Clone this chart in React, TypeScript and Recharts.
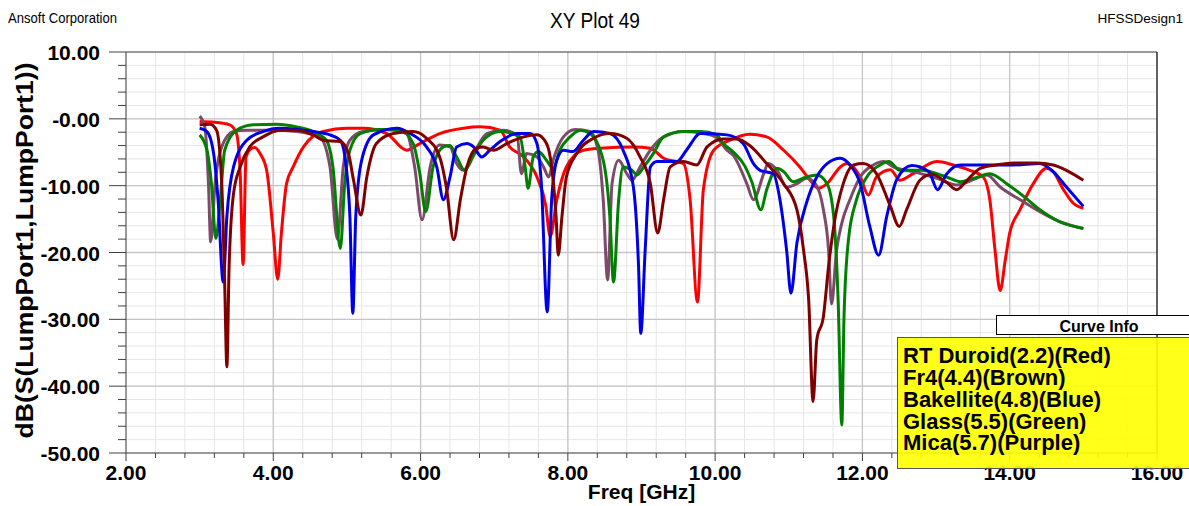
import React from "react";
import { LineChart, Line, XAxis, YAxis, CartesianGrid, ReferenceLine, Label } from "recharts";

if (typeof document !== "undefined") {
  document.body.style.margin = "0";
}

const FONT = "'Liberation Sans', Arial, Helvetica, sans-serif";

// ---------- data ----------
const seriesNames = [
  "RT Duroid(2.2)(Red)",
  "Fr4(4.4)(Brown)",
  "Bakellite(4.8)(Blue)",
  "Glass(5.5)(Green)",
  "Mica(5.7)(Purple)",
];

const xMajorTicks = [2, 4, 6, 8, 10, 12, 14, 16];
const yMajorTicks = [10, 0, -10, -20, -30, -40, -50];
const xTicks = Array.from({ length: 36 }, (_, i) => Math.round((2 + i * 0.4) * 10) / 10);
const yTicks = Array.from({ length: 31 }, (_, i) => -50 + 2 * i);

type Pt = [number, number];

const redPts: Pt[] = [
  [3.0, -0.4], [3.2, -0.5], [3.41, -0.9], [3.5, -2.2], [3.55, -8], [3.59, -21.8], [3.63, -5.7],
  [3.71, -4.4], [3.75, -4.3], [3.82, -5.2], [3.91, -7.7], [4.0, -17.1], [4.06, -24.0], [4.11, -17.1],
  [4.18, -9.7], [4.27, -7.2], [4.41, -4.2], [4.54, -2.6], [4.68, -1.9], [5.0, -1.4], [5.22, -1.4],
  [5.54, -2.2], [5.81, -4.7], [5.99, -3.7], [6.26, -2.2], [6.58, -1.4], [6.81, -1.2], [7.08, -1.7],
  [7.21, -4.2], [7.4, -5.7], [7.58, -8.7], [7.7, -13], [7.76, -17.6], [7.85, -12.1], [7.98, -7.2],
  [8.21, -4.7], [8.44, -4.4], [8.89, -4.2], [9.12, -4.4], [9.3, -5.9], [9.57, -6.7], [9.66, -12.1],
  [9.76, -27.4], [9.84, -10.6], [9.98, -4.7], [10.2, -3.2], [10.47, -2.3], [10.7, -2.7], [10.93, -4.7],
  [11.15, -7.2], [11.29, -9.2], [11.4, -10.4], [11.52, -9.7], [11.7, -7.2], [11.79, -6.7], [11.97, -8.7],
  [12.08, -11.4], [12.19, -8.7], [12.38, -7.6], [12.51, -9.2], [12.69, -8.2], [13.01, -6.4],
  [13.23, -6.9], [13.46, -7.7], [13.64, -8.7], [13.73, -12.1], [13.8, -19.6], [13.87, -25.7],
  [13.94, -21.1], [14.0, -17.1], [14.14, -13.6], [14.32, -9.7], [14.5, -7.4], [14.59, -7.9],
  [14.73, -10.6], [14.86, -12.6], [15.0, -13.4],
];

const brownPts: Pt[] = [
  [3.0, -0.9], [3.14, -0.8], [3.23, -1.7], [3.3, -9.7], [3.34, -24.6], [3.37, -37.1], [3.4, -22.1],
  [3.46, -11.2], [3.55, -7.2], [3.68, -4.2], [3.86, -2.7], [4.09, -1.7], [4.32, -1.7], [4.54, -2.4],
  [4.68, -3.2], [4.91, -3.4], [5.02, -5.2], [5.09, -9.2], [5.19, -14.4], [5.27, -8.7], [5.4, -3.7],
  [5.63, -2.2], [5.9, -1.9], [6.08, -2.9], [6.26, -5.7], [6.35, -10.2], [6.45, -18.1], [6.54, -12.1],
  [6.63, -7.2], [6.76, -4.4], [6.85, -4.2], [6.99, -4.7], [7.17, -3.7], [7.4, -2.7], [7.58, -2.4],
  [7.71, -3.7], [7.78, -7.2], [7.84, -14.6], [7.87, -20.4], [7.92, -14.6], [7.98, -8.7], [8.12, -5.2],
  [8.35, -2.9], [8.57, -2.2], [8.8, -2.9], [8.98, -5.7], [9.12, -9.7], [9.22, -17.1], [9.3, -12.1],
  [9.39, -7.2], [9.57, -6.4], [9.75, -6.9], [9.89, -4.2], [10.11, -3.0], [10.3, -3.0], [10.47, -4.0],
  [10.7, -6.7], [10.93, -9.7], [11.11, -13.6], [11.2, -19.6], [11.27, -27.1], [11.33, -42.3],
  [11.38, -33.1], [11.47, -29.6], [11.54, -22.1], [11.61, -16.1], [11.74, -9.7], [11.88, -6.9],
  [12.01, -6.7], [12.19, -8.2], [12.38, -13.1], [12.5, -16.1], [12.6, -13.6], [12.78, -9.2],
  [12.94, -8.3], [13.14, -9.5], [13.28, -10.6], [13.42, -9.2], [13.6, -7.4], [13.82, -6.9],
  [14.05, -6.6], [14.37, -6.6], [14.59, -6.9], [14.77, -7.7], [15.0, -9.2],
];

const bluePts: Pt[] = [
  [3.0, -1.4], [3.1, -1.9], [3.19, -5.2], [3.25, -12.1], [3.32, -24.4], [3.37, -14.6], [3.46, -7.2],
  [3.64, -3.2], [3.86, -1.9], [4.09, -1.4], [4.54, -1.9], [4.77, -2.4], [4.91, -3.2], [4.99, -7.2],
  [5.04, -14.6], [5.08, -29.1], [5.12, -14.6], [5.2, -6.2], [5.36, -2.4], [5.68, -1.4], [5.86, -2.2],
  [6.08, -4.2], [6.22, -7.2], [6.31, -12.1], [6.4, -8.7], [6.49, -4.2], [6.63, -3.7], [6.72, -4.2],
  [6.83, -5.7], [6.94, -4.7], [7.08, -3.4], [7.31, -2.2], [7.49, -2.2], [7.58, -3.7], [7.64, -9.7],
  [7.72, -28.9], [7.78, -12.1], [7.85, -6.2], [7.94, -4.7], [8.07, -4.9], [8.21, -3.2], [8.35, -1.9],
  [8.57, -2.2], [8.75, -4.7], [8.89, -10.2], [8.96, -22.1], [8.99, -32.1], [9.05, -19.6], [9.12, -7.2],
  [9.21, -6.4], [9.48, -6.4], [9.61, -4.7], [9.8, -2.2], [10.16, -2.4], [10.38, -3.7], [10.52, -6.7],
  [10.61, -7.7], [10.79, -8.2], [10.88, -12.1], [10.97, -19.6], [11.03, -26.1], [11.11, -18.6],
  [11.24, -12.6], [11.38, -8.7], [11.52, -6.7], [11.7, -5.9], [11.83, -6.9], [11.97, -9.7],
  [12.1, -16.1], [12.22, -20.4], [12.33, -14.6], [12.47, -9.0], [12.67, -7.0], [12.9, -7.9],
  [13.02, -10.6], [13.14, -8.3], [13.33, -6.9], [14.05, -6.9], [14.41, -6.7], [14.59, -7.9],
  [14.77, -10.2], [15.0, -13.1],
];

const greenPts: Pt[] = [
  [3.0, -2.4], [3.1, -4.7], [3.16, -9.7], [3.22, -17.9], [3.28, -12.1], [3.34, -4.7], [3.5, -1.7],
  [3.73, -0.9], [4.05, -0.8], [4.32, -1.2], [4.54, -1.9], [4.72, -3.2], [4.81, -7.2], [4.91, -19.4],
  [4.97, -9.7], [5.04, -4.7], [5.18, -2.2], [5.45, -1.6], [5.72, -1.7], [5.9, -3.7], [5.99, -8.2],
  [6.07, -13.9], [6.17, -7.2], [6.31, -4.2], [6.4, -4.0], [6.49, -5.7], [6.6, -7.7], [6.72, -5.5],
  [6.85, -3.2], [7.08, -1.9], [7.35, -2.7], [7.42, -7.2], [7.46, -10.4], [7.53, -5.7], [7.6, -4.9],
  [7.71, -6.2], [7.8, -7.4], [7.89, -4.7], [8.03, -2.7], [8.17, -1.7], [8.3, -2.2], [8.48, -6.2],
  [8.57, -14.6], [8.62, -24.4], [8.69, -12.1], [8.75, -7.2], [8.87, -7.7], [8.94, -8.4], [9.03, -7.2],
  [9.16, -5.2], [9.3, -2.7], [9.57, -1.9], [9.8, -1.9], [10.02, -2.4], [10.11, -3.7], [10.25, -5.0],
  [10.4, -7.0], [10.5, -9.5], [10.62, -13.6], [10.7, -10.6], [10.84, -7.4], [10.93, -7.9],
  [11.06, -9.4], [11.24, -8.7], [11.38, -8.4], [11.52, -9.7], [11.61, -14.6], [11.67, -27.1],
  [11.72, -45.8], [11.75, -29.6], [11.81, -18.1], [11.92, -12.1], [12.06, -8.7], [12.24, -6.9],
  [12.36, -6.4], [12.51, -7.7], [12.8, -7.7], [13.14, -8.7], [13.33, -9.4], [13.51, -8.9],
  [13.73, -8.2], [13.96, -9.7], [14.19, -11.6], [14.41, -13.6], [14.68, -15.4], [15.0, -16.4],
];

const purplePts: Pt[] = [
  [3.0, 0.4], [3.07, -1.2], [3.12, -9.7], [3.15, -18.4], [3.21, -9.7], [3.3, -4.2], [3.46, -1.9],
  [3.64, -1.7], [4.0, -1.7], [4.32, -1.9], [4.63, -2.7], [4.77, -7.2], [4.87, -18.0], [4.95, -7.2],
  [5.04, -3.2], [5.22, -1.9], [5.54, -1.6], [5.81, -2.2], [5.92, -7.2], [6.02, -15.1], [6.13, -7.2],
  [6.26, -3.9], [6.4, -4.2], [6.49, -6.7], [6.58, -7.7], [6.72, -5.2], [6.9, -2.2], [7.12, -1.7],
  [7.31, -2.4], [7.37, -8.2], [7.44, -5.2], [7.58, -5.7], [7.67, -7.2], [7.74, -8.7], [7.8, -6.2],
  [7.94, -2.7], [8.1, -1.6], [8.3, -1.9], [8.41, -4.7], [8.48, -12.1], [8.54, -24.1], [8.6, -9.7],
  [8.69, -6.2], [8.8, -8.2], [8.87, -9.2], [8.98, -7.2], [9.12, -4.7], [9.3, -2.7], [9.57, -1.9],
  [9.85, -2.2], [10.02, -2.8], [10.16, -4.7], [10.25, -5.5], [10.43, -9.7], [10.52, -12.1],
  [10.66, -8.2], [10.72, -6.7], [10.84, -7.7], [10.97, -10.2], [11.11, -9.7], [11.24, -8.9],
  [11.36, -9.7], [11.47, -13.6], [11.54, -19.6], [11.58, -27.7], [11.65, -19.6], [11.72, -15.6],
  [11.83, -12.1], [11.97, -8.7], [12.15, -6.9], [12.29, -6.4], [12.42, -7.2], [12.69, -7.9],
  [13.01, -8.9], [13.28, -9.9], [13.55, -8.9], [13.69, -8.4], [13.87, -10.2], [14.14, -12.1],
  [14.41, -13.9], [14.68, -15.4], [15.0, -16.4],
];

// ---------- styling ----------
const seriesColors = ["#ff0000", "#800000", "#0000e8", "#008000", "#7d4a6a"];
const seriesPts = [redPts, brownPts, bluePts, greenPts, purplePts];
const drawOrder = [0, 4, 3, 2, 1];

const toRows = (pts: Pt[]) => pts.map(([f, db]) => ({ f, db }));

const isMajor = (v: number, step: number) => Math.abs(v / step - Math.round(v / step)) < 1e-6;
const fmtY = (v: number) => (v === 0 ? "-0.00" : v.toFixed(2));

const YTick = (props: any) => {
  const { x, y, payload } = props;
  const v = payload.value as number;
  const major = isMajor(v, 10);
  return (
    <g>
      <line x1={x - (major ? 17 : 8)} x2={x} y1={y} y2={y} stroke="#404040" strokeWidth={1} />
      {major && (
        <text x={x - 26} y={y + 8} textAnchor="end" fontFamily={FONT} fontWeight="bold" fontSize={21} fill="#000">
          {fmtY(v)}
        </text>
      )}
    </g>
  );
};

const XTick = (props: any) => {
  const { x, y, payload } = props;
  const v = payload.value as number;
  const major = isMajor(v, 2);
  return (
    <g>
      <line x1={x} x2={x} y1={y} y2={y + (major ? 8 : 5)} stroke="#404040" strokeWidth={1} />
      {major && (
        <text x={x} y={y + 27} textAnchor="middle" fontFamily={FONT} fontWeight="bold" fontSize={21} fill="#000">
          {v.toFixed(2)}
        </text>
      )}
    </g>
  );
};

const YTitle = (props: any) => {
  const vb = props.viewBox || { y: 52, height: 401 };
  const cy = vb.y + vb.height / 2 - 2;
  return (
    <text
      x={33}
      y={cy}
      transform={`rotate(-90, 33, ${cy})`}
      textAnchor="middle"
      fontFamily={FONT}
      fontWeight="bold"
      fontSize={23}
      textLength={376}
      lengthAdjust="spacingAndGlyphs"
      fill="#000"
    >
      dB(S(LumpPort1,LumpPort1))
    </text>
  );
};

const XTitle = (props: any) => {
  const vb = props.viewBox || { x: 126, width: 1031 };
  const cx = vb.x + vb.width / 2;
  return (
    <text x={cx} y={499} textAnchor="middle" fontFamily={FONT} fontWeight="bold" fontSize={21} fill="#000">
      Freq [GHz]
    </text>
  );
};

export default function App() {
  const W = 1189;
  const H = 506;
  const legendBaselines = [363, 385, 407, 429, 450];
  return (
    <div style={{ position: "relative", width: W, height: H, background: "#fff" }}>
      <LineChart width={W} height={H} margin={{ top: 52, right: 32, bottom: 0, left: 0 }}>
        <CartesianGrid stroke="#e6e6e6" strokeWidth={1} />
        {xMajorTicks.slice(1, -1).map((v) => (
          <ReferenceLine key={"gx" + v} x={v} stroke="#c6c6c6" strokeWidth={1.3} />
        ))}
        {yMajorTicks.slice(1, -1).map((v) => (
          <ReferenceLine key={"gy" + v} y={v} stroke="#c6c6c6" strokeWidth={1.3} />
        ))}
        <XAxis
          type="number"
          dataKey="f"
          domain={[2, 16]}
          ticks={xTicks}
          interval={0}
          allowDataOverflow
          height={53}
          tickSize={0}
          tickMargin={0}
          tickLine={false}
          axisLine={{ stroke: "#404040" }}
          tick={(p: any) => <XTick {...p} />}
        >
          <Label content={(p: any) => <XTitle {...p} />} />
        </XAxis>
        <YAxis
          type="number"
          domain={[-50, 10]}
          ticks={yTicks}
          interval={0}
          allowDataOverflow
          width={126}
          tickSize={0}
          tickMargin={0}
          tickLine={false}
          axisLine={{ stroke: "#404040" }}
          tick={(p: any) => <YTick {...p} />}
        >
          <Label content={(p: any) => <YTitle {...p} />} />
        </YAxis>
        {drawOrder.map((i) => (
          <Line
            key={seriesNames[i]}
            name={seriesNames[i]}
            data={toRows(seriesPts[i])}
            dataKey="db"
            type="monotone"
            stroke={seriesColors[i]}
            strokeWidth={3}
            dot={false}
            activeDot={false}
            isAnimationActive={false}
          />
        ))}
        <ReferenceLine y={10} stroke="#404040" strokeWidth={1.2} />
        <ReferenceLine x={16} stroke="#000" strokeWidth={1.2} />
      </LineChart>
      <svg
        width={W}
        height={H}
        style={{ position: "absolute", left: 0, top: 0, pointerEvents: "none" }}
      >
        <text x={8} y={23} fontFamily={FONT} fontSize={15} textLength={109} lengthAdjust="spacingAndGlyphs" fill="#000">
          Ansoft Corporation
        </text>
        <text x={595} y={28} textAnchor="middle" fontFamily={FONT} fontSize={22} textLength={90} lengthAdjust="spacingAndGlyphs" fill="#000">
          XY Plot 49
        </text>
        <text x={1183} y={23} textAnchor="end" fontFamily={FONT} fontSize={13.5} fill="#000">
          HFSSDesign1
        </text>
        <rect x={996.5} y={315.5} width={220} height={19} fill="#fff" stroke="#000" strokeWidth={1} />
        <text x={1099} y={332} textAnchor="middle" fontFamily={FONT} fontWeight="bold" fontSize={16} fill="#000">
          Curve Info
        </text>
        <rect x={897.5} y={337.5} width={320} height={131} fill="#ffff00" fillOpacity={0.9} stroke="#555" strokeWidth={1} />
        {seriesNames.map((n, i) => (
          <text key={n} x={903} y={legendBaselines[i]} fontFamily={FONT} fontWeight="bold" fontSize={22} fill="#000">
            {n}
          </text>
        ))}
      </svg>
    </div>
  );
}
